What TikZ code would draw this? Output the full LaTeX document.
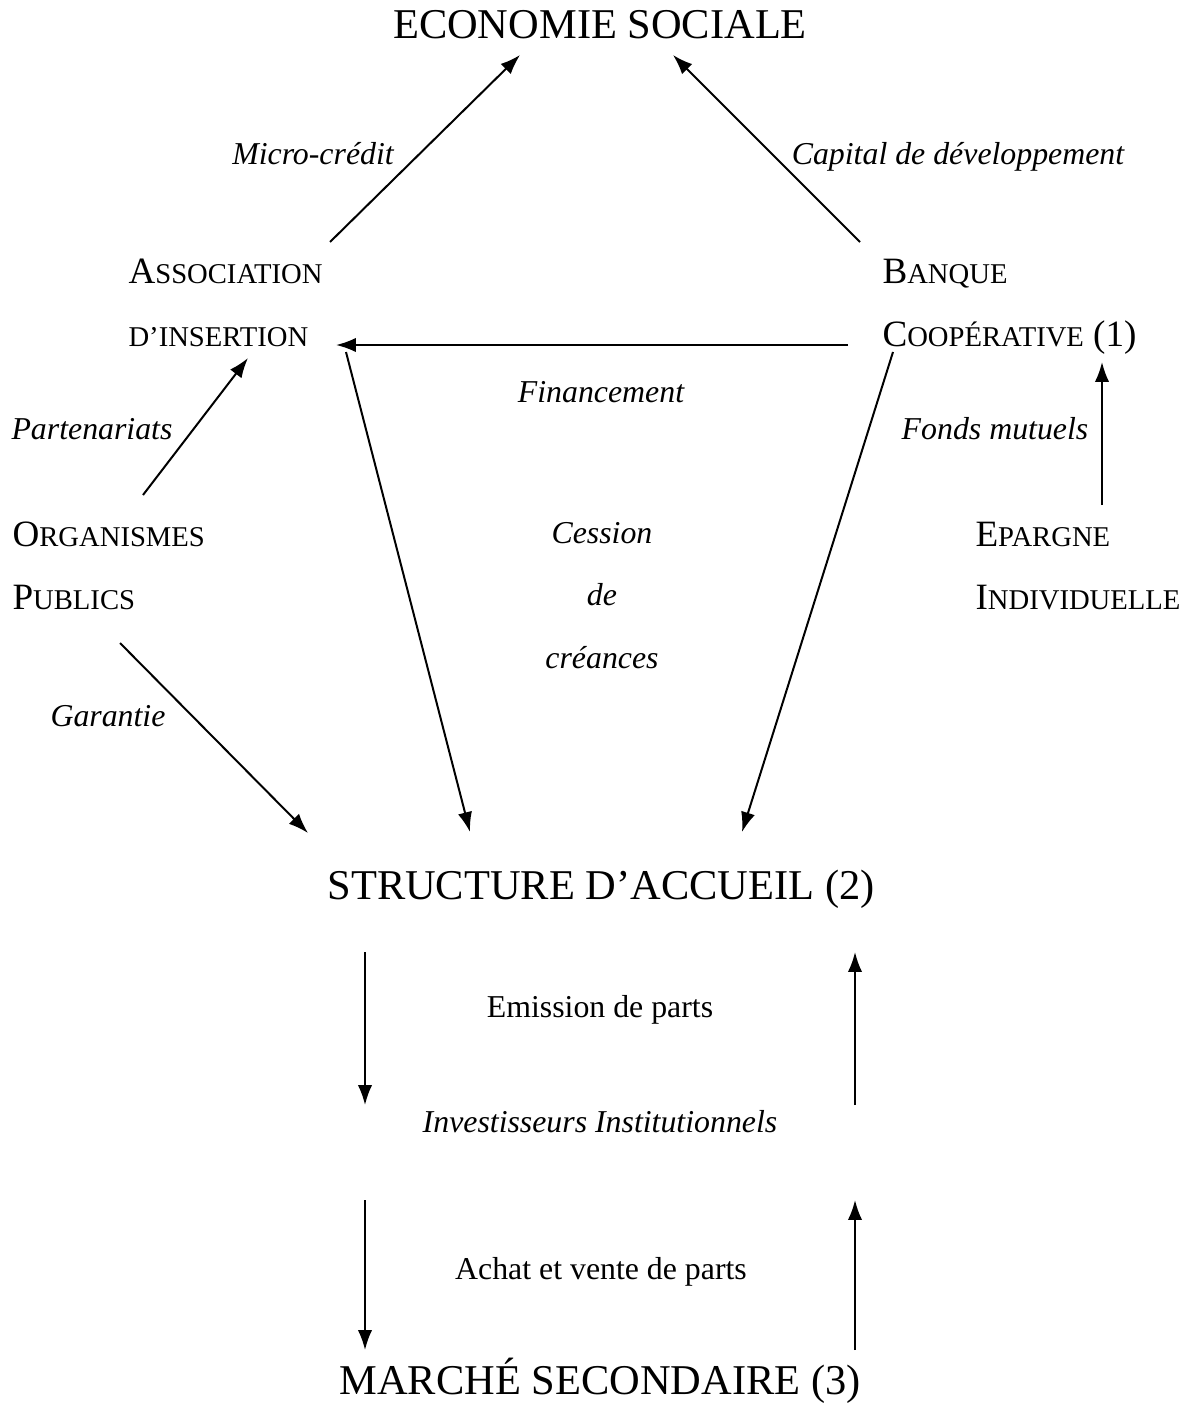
\documentclass[tikz,border=0pt]{standalone}
\usepackage{fontspec}
\setmainfont{Liberation Serif}
\usetikzlibrary{arrows.meta}
\newcommand{\pcap}[1]{{\fontsize{10.8}{23.75}\selectfont #1}}

\begin{document}
\begin{tikzpicture}[x=0.377pt, y=-0.377pt,
    flux/.style={-{Latex[length=7.5pt,width=5.4pt]}, line width=0.75pt},
    acteur/.style={anchor=base west, inner sep=0pt, align=left,
        font=\fontsize{14}{23.75}\selectfont},
    titre/.style={anchor=base, inner sep=0pt, font=\fontsize{16}{19}\selectfont},
    etiq/.style={anchor=base, inner sep=0pt, font=\fontsize{12}{14}\selectfont\itshape},
    texte/.style={anchor=base, inner sep=0pt, font=\fontsize{12}{14}\selectfont}]
    \useasboundingbox (0,0) rectangle (1192,1408);

    % 1. Les pôles
    \node[titre] (eco) at (600,39) {ECONOMIE SOCIALE};
    \node[acteur] (assoc) at (128,346) {A\pcap{SSOCIATION}\\\pcap{D’INSERTION}};
    \node[acteur] (banque) at (882,346) {B\pcap{ANQUE}\\C\pcap{OOPÉRATIVE} (1)};
    \node[acteur] (orga) at (12,609) {O\pcap{RGANISMES}\\P\pcap{UBLICS}};
    \node[acteur] (epargne) at (975,609) {E\pcap{PARGNE}\\I\pcap{NDIVIDUELLE}};
    \node[titre] (struct) at (601,899) {STRUCTURE D’ACCUEIL (2)};
    \node[etiq] (invest) at (600,1132) {Investisseurs Institutionnels};
    \node[titre] (marche) at (600,1394) {MARCHÉ SECONDAIRE (3)};

    % 2. Les libellés
    \node[etiq] (micro) at (313,164) {Micro-crédit};
    \node[etiq] (capital) at (958,164) {Capital de développement};
    \node[etiq] (finance) at (601,402) {Financement};
    \node[etiq] (parten) at (92,439) {Partenariats};
    \node[etiq] (fonds) at (995,439) {Fonds mutuels};
    \node[etiq, align=center, font=\fontsize{12}{23.5}\selectfont\itshape]
        (cession) at (602,668) {Cession\\de\\créances};
    \node[etiq] (garantie) at (108,726) {Garantie};
    \node[texte] (emission) at (600,1017) {Emission de parts};
    \node[texte] (achat) at (601,1279) {Achat et vente de parts};

    % 3. Les flux
    \draw[flux] ([shift={(202,-104)}]assoc.base west) -- ([shift={(-80,16)}]eco.base);
    \draw[flux] ([shift={(-22,-104)}]banque.base west) -- ([shift={(73,16)}]eco.base);
    \draw[flux] ([shift={(-34,-1)}]banque.base west) -- ([shift={(208,-1)}]assoc.base west);
    \draw[flux] ([shift={(131,-114)}]orga.base west) -- ([shift={(120,12)}]assoc.base west);
    \draw[flux] ([shift={(127,-104)}]epargne.base west) -- ([shift={(220,16)}]banque.base west);
    \draw[flux] ([shift={(108,34)}]orga.base west) -- ([shift={(-293,-66)}]struct.base);
    \draw[flux] ([shift={(218,6)}]assoc.base west) -- ([shift={(-131,-67)}]struct.base);
    \draw[flux] ([shift={(11,6)}]banque.base west) -- ([shift={(141,-67)}]struct.base);
    \draw[flux] ([shift={(-236,53)}]struct.base) -- ([shift={(-235,-27)}]invest.base);
    \draw[flux] ([shift={(255,-27)}]invest.base) -- ([shift={(254,53)}]struct.base);
    \draw[flux] ([shift={(-235,68)}]invest.base) -- ([shift={(-235,-44)}]marche.base);
    \draw[flux] ([shift={(255,-44)}]marche.base) -- ([shift={(255,68)}]invest.base);
\end{tikzpicture}
\end{document}
